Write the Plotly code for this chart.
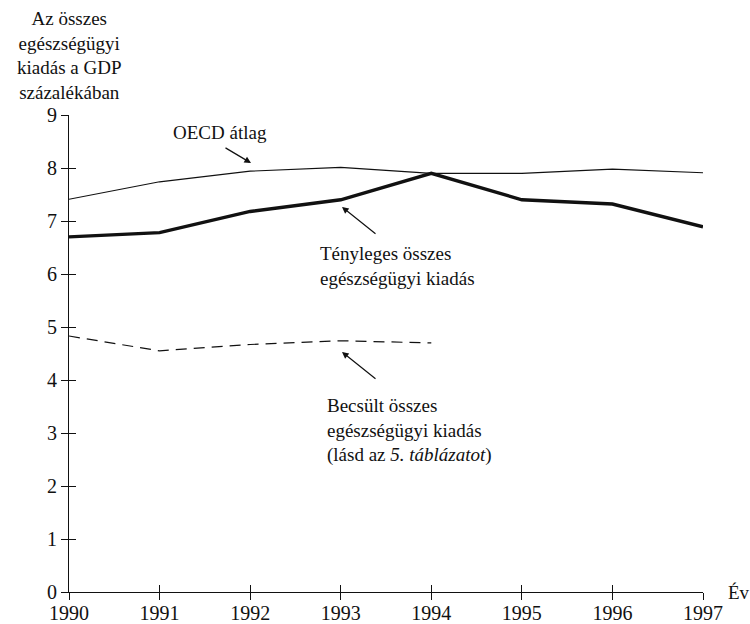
import plotly.graph_objects as go

years = [1990, 1991, 1992, 1993, 1994, 1995, 1996, 1997]
oecd = [7.41, 7.74, 7.94, 8.01, 7.90, 7.90, 7.98, 7.91]
actual = [6.70, 6.78, 7.18, 7.40, 7.90, 7.40, 7.32, 6.89]
est_years = [1990, 1991, 1992, 1993, 1994]
estimated = [4.83, 4.55, 4.67, 4.74, 4.70]
y_ticks = [0, 1, 2, 3, 4, 5, 6, 7, 8, 9]

FONT = "Liberation Serif"
FS = 19
BLACK = "#111111"

X0, DX = 69, 90.57      # pixel of 1990, pixels per year
Y0, DY = 592, 53.0      # pixel of 0, pixels per unit
W, H = 750, 624
L = X0
T = Y0 - 9 * DY
R = W - (X0 + 7 * DX)
B = H - Y0

fig = go.Figure()
fig.add_trace(go.Scatter(x=years, y=oecd, mode="lines",
                         line=dict(color=BLACK, width=1.2), showlegend=False))
fig.add_trace(go.Scatter(x=years, y=actual, mode="lines",
                         line=dict(color=BLACK, width=3.4), showlegend=False))
fig.add_trace(go.Scatter(x=est_years, y=estimated, mode="lines",
                         line=dict(color=BLACK, width=1.2, dash="11px,7px"), showlegend=False))
# invisible trace to activate overlay axes (inside half of crossing ticks)
fig.add_trace(go.Scatter(x=[years[0]], y=[0], xaxis="x2", yaxis="y2", mode="markers",
                         marker=dict(opacity=0), showlegend=False, hoverinfo="skip"))

axis_common = dict(showgrid=False, zeroline=False, showline=True, linecolor=BLACK,
                   linewidth=1.2, tickcolor=BLACK, tickwidth=1.2, ticklen=7,
                   automargin=False, tickfont=dict(size=20, family=FONT, color=BLACK))

fig.update_layout(
    width=W, height=H,
    margin=dict(l=L, r=R, t=T, b=B, pad=0),
    paper_bgcolor="white", plot_bgcolor="white",
    font=dict(family=FONT, size=FS, color=BLACK),
    xaxis=dict(range=[1990, 1997], tickvals=years, ticktext=[str(y) for y in years],
               ticks="outside", ticklabelstandoff=-4, **axis_common),
    yaxis=dict(range=[0, 9], tickvals=y_ticks, ticks="outside", **axis_common),
    xaxis2=dict(range=[1990, 1997], tickvals=years, showticklabels=False, overlaying="x",
                ticks="inside", **axis_common),
    yaxis2=dict(range=[0, 9], tickvals=y_ticks, showticklabels=False, overlaying="y",
                ticks="inside", **axis_common),
)

def px2x(px):
    return 1990 + (px - X0) / DX

def px2y(py):
    return (Y0 - py) / DY

plot_h = 9 * DY
ann = []
# y-axis title
ann.append(dict(text="Az összes<br>egészségügyi<br>kiadás a GDP<br>százalékában",
                xref="paper", yref="paper", x=0.0, y=1.0 + (Y0 - 9 * DY - 55.5) / plot_h,
                xanchor="center", yanchor="middle", showarrow=False, align="center"))
# x-axis title
ann.append(dict(text="Év", xref="paper", yref="y", x=1.0 + (726 - (X0 + 7 * DX)) / (7 * DX), y=0,
                xanchor="left", yanchor="middle", showarrow=False))
# labels
ann.append(dict(text="OECD átlag", x=px2x(220), y=px2y(132), xanchor="center",
                yanchor="middle", showarrow=False))
ann.append(dict(text="Tényleges összes<br>egészségügyi kiadás", x=px2x(318), y=px2y(265.5),
                xanchor="left", yanchor="middle", showarrow=False, align="left"))
ann.append(dict(text="Becsült összes<br>egészségügyi kiadás<br>(lásd az <i>5. táblázatot</i>)",
                x=px2x(325), y=px2y(430), xanchor="left", yanchor="middle",
                showarrow=False, align="left"))
# arrows
for hx, hy, tx, ty in [(251, 163, 224, 147), (342, 207, 377, 235), (342, 352, 377, 380)]:
    ann.append(dict(text="", x=px2x(hx), y=px2y(hy), ax=tx - hx, ay=ty - hy,
                    showarrow=True, arrowhead=2, arrowsize=1.1, arrowwidth=1.2,
                    arrowcolor=BLACK))
fig.update_layout(annotations=ann)

fig.write_html("out.html", config={"displayModeBar": False},
               post_script="document.body.style.margin='0';document.body.style.overflow='hidden';")
